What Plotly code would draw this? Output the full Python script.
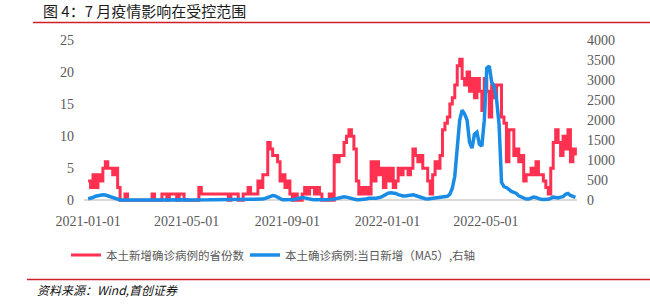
import pandas as pd
import plotly.graph_objects as go

# ---------------- data (3-day samples) ----------------
red_provinces = (
    [3, 2, 4, 2, 4, 3, 5, 6, 5, 5, 4, 5, 2]
    + [0, 0, 1, 0, 0, 0, 0, 0, 0, 0, 0, 0, 0]
    + [1]
    + [0, 0, 0]
    + [1, 1, 0, 1, 1, 1, 0, 1, 1]
    + [0, 0, 0, 0, 0, 0]
    + [2, 1, 1, 1, 1, 1, 1, 1, 1]
    + [1, 1, 1, 0, 1, 1, 1, 0, 0, 1, 1, 2, 1, 1, 1]
    + [3, 2, 4, 4, 9, 8, 7, 7, 6, 3, 4, 2, 3, 1, 0, 1, 0, 0, 1, 2, 1, 2, 2, 1, 2, 1, 0, 0, 0, 1, 0]
    + [7, 6, 7, 7, 9, 10, 11, 10, 8, 3, 1, 2, 1, 2, 1, 6, 3, 6, 4, 5, 2, 5, 3, 5, 2, 3, 5, 4, 5, 5,
       4, 5, 8, 7, 6, 7, 5, 5, 3, 1]
    + [4, 6, 5, 7, 11, 12, 13, 15, 16, 18, 21, 22, 19, 18, 20, 17, 19, 16, 19, 17, 14, 19, 17, 13, 18,
       16, 18, 18, 13, 12, 6, 11, 11, 7, 8, 6, 7, 3, 4, 4, 5, 4, 6, 4, 4, 3, 2, 1, 5, 9, 11, 9, 7, 10,
       8, 11, 6, 8, 7]
)

blue_cases_ma5 = (
    [40, 50, 70, 100, 120, 140, 140, 130, 110, 80, 50, 30, 15]
    + [10, 8, 6, 5, 5, 6, 8, 10, 12, 10, 8, 6]
    + [5, 5, 6, 8, 10, 10, 8, 6, 5, 5, 6, 8]
    + [10, 12, 14, 12, 10, 8, 6, 5, 5, 6, 8, 10]
    + [12, 14, 15, 14, 12, 10, 8, 8, 10, 12, 14, 15]
    + [14, 12, 10, 10, 12, 14, 16, 18, 20, 25]
    + [30, 50, 80, 100, 120, 110, 70, 30, 15, 12, 12, 14, 16]
    + [20, 40, 60, 70, 60, 40, 20, 18, 16, 15, 16, 18]
    + [15, 14, 15, 20, 30, 50, 70, 90, 90, 80, 60, 40, 20, 15, 14, 15, 20]
    + [30, 50, 60, 50, 50, 60, 80, 110, 150, 180, 190, 190, 170, 140, 120, 110, 110, 120, 130, 140,
       120, 100, 60, 40, 40, 30, 40, 50, 50, 60, 70, 70, 80, 100, 150]
    + [300, 600, 1300, 2000, 2250, 2150, 2000, 1450, 1300, 1650, 1700, 1400, 1350, 2000, 3300, 3350,
       2950, 2850, 2500, 1900, 450, 340, 320, 270, 220, 200, 170, 110, 80, 50, 30, 30, 50, 80, 70, 40,
       25, 20, 20, 25, 50, 80, 70, 60, 80, 90, 150, 170, 120, 100, 70]
)

dates = pd.date_range("2021-01-01", periods=len(red_provinces), freq="3D")

x_tick_dates = ["2021-01-01", "2021-05-01", "2021-09-01", "2022-01-01", "2022-05-01"]
x_tick_text = ["2021-01-01", "2021-05-01", "2021-09-01", "2022-01-01", "2022-05-01"]
left_ticks = [0, 5, 10, 15, 20, 25]
right_ticks = [0, 500, 1000, 1500, 2000, 2500, 3000, 3500, 4000]

name_red = "本土新增确诊病例的省份数"
name_blue = "本土确诊病例:当日新增（MA5）,右轴"
title_text = "图 4：7 月疫情影响在受控范围"
source_text = "<i>资料来源：Wind,首创证券</i>"

# ---------------- layout geometry ----------------
W, H = 650, 304
ML, MR, MT, MB = 84, 73, 40, 95
PW, PH = W - ML - MR, H - MT - MB


def px_x(px):
    return (px - ML) / PW


def px_y(py):
    return (H - MB - py) / PH


RED = "#FF3050"
BLUE = "#1A8CE6"
TICK_FONT = dict(family="Liberation Serif", size=14, color="#595959")
CJK = "Noto Sans CJK SC"
LEG_FONT = dict(family=CJK, size=11.5, color="#595959")

fig = go.Figure()
fig.add_trace(go.Scatter(
    x=dates, y=red_provinces, name=name_red, mode="lines",
    line=dict(color=RED, width=3, shape="hv"), yaxis="y", legend="legend",
))
fig.add_trace(go.Scatter(
    x=dates, y=blue_cases_ma5, name=name_blue, mode="lines",
    line=dict(color=BLUE, width=3.5), yaxis="y2", legend="legend2",
))

fig.update_layout(
    width=W, height=H,
    margin=dict(l=ML, r=MR, t=MT, b=MB, pad=0),
    paper_bgcolor="white", plot_bgcolor="white",
    title=dict(text=title_text, xref="container", yref="container",
               x=43 / W, y=1 - 12 / H, xanchor="left", yanchor="middle",
               font=dict(family=CJK, size=15, color="#1a1a1a")),
    xaxis=dict(type="date", range=["2020-12-27", "2022-08-20"],
               tickvals=x_tick_dates, ticktext=x_tick_text,
               showgrid=False, zeroline=False, showline=False, ticks="",
               tickfont=TICK_FONT, ticklabelstandoff=7),
    yaxis=dict(range=[-0.5, 25], tickvals=left_ticks, showgrid=False,
               zeroline=True, zerolinecolor="#D9D9D9", zerolinewidth=1.5,
               showline=False, ticks="", tickfont=TICK_FONT, ticklabelstandoff=9),
    yaxis2=dict(range=[-80, 4000], tickvals=right_ticks, overlaying="y", side="right",
                showgrid=False, zeroline=False, showline=False, ticks="",
                tickfont=TICK_FONT, ticklabelstandoff=9),
    legend=dict(orientation="h", xref="container", yref="container",
                x=66 / W, y=1 - 255 / H, xanchor="left", yanchor="middle",
                font=LEG_FONT, bgcolor="rgba(0,0,0,0)", itemwidth=30),
    legend2=dict(orientation="h", xref="container", yref="container",
                 x=245 / W, y=1 - 255 / H, xanchor="left", yanchor="middle",
                 font=LEG_FONT, bgcolor="rgba(0,0,0,0)", itemwidth=30),
    showlegend=True,
)

# decorative red rules above the plot and above the source line
fig.add_shape(type="line", xref="paper", yref="paper",
              x0=px_x(33), x1=px_x(650), y0=px_y(22), y1=px_y(22),
              line=dict(color="#D0202A", width=1.5))
fig.add_shape(type="line", xref="paper", yref="paper",
              x0=px_x(27), x1=px_x(650), y0=px_y(287.5), y1=px_y(287.5),
              line=dict(color="#D0202A", width=1.5))

fig.add_annotation(text=source_text, xref="paper", yref="paper",
                   x=px_x(35), y=px_y(298), xanchor="left", yanchor="middle",
                   showarrow=False, font=dict(family=CJK, size=12, color="#111111"))

fig.write_html("out.html")
